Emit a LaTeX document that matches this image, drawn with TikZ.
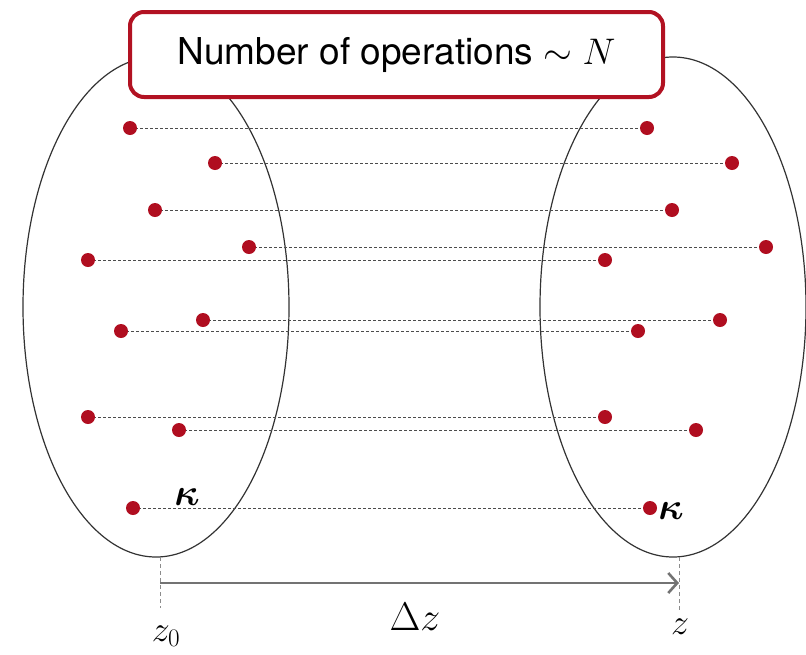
\RequirePackage{fix-cm}
\documentclass[tikz,border=0pt]{standalone}
\usepackage{amsmath,bm}
\usepackage{fontspec}
\setmainfont{TeX Gyre Heros}
\usetikzlibrary{arrows.meta}
\definecolor{dotred}{RGB}{176,14,32}
\definecolor{boxred}{RGB}{178,18,34}
\tikzset{
  dot/.style={circle,fill=dotred,draw=none,minimum size=14pt,inner sep=0pt},
  link/.style={draw=black!70,line width=0.7pt,dash pattern=on 3pt off 2pt},
  blob/.style={draw=black!80,line width=1.2pt},
  guide/.style={draw=black!45,line width=0.8pt,dash pattern=on 4pt off 3pt},
  titlebox/.style={draw=boxred,line width=4pt,rounded corners=14pt,fill=white,minimum width=533pt,minimum height=85pt,inner sep=0pt,font=\fontsize{37}{40}\selectfont},
  lab/.style={inner sep=0pt,font=\fontsize{36}{40}\selectfont},
  klab/.style={inner sep=0pt,font=\fontsize{38}{42}\selectfont}
}
\begin{document}
\begin{tikzpicture}[x=1pt,y=-1pt]
\useasboundingbox (0,0) rectangle (806,654);
% ellipses
\draw[blob] (156,307) ellipse [x radius=133, y radius=250];
\draw[blob] (673,307) ellipse [x radius=133, y radius=250];
% dots
\foreach \i/\x/\y in {1/130/128,2/215/163,3/155/210,4/249/247,5/88/260,6/203/320,7/121/331,8/88/417,9/179/430,10/133/508}{
  \coordinate (L\i) at (\x,\y);
  \coordinate (R\i) at (\x+517,\y);
}
\foreach \i in {1,...,10}{\draw[link] (L\i) -- (R\i);}
\foreach \i in {1,...,10}{
  \node[dot] (dl\i) at (L\i) {};
  \node[dot] (dr\i) at (R\i) {};
}
\node[klab] (kl) at (187,497) {$\bm{\kappa}$};
\node[klab] (kr) at (671,511) {$\bm{\kappa}$};
% title
\node[titlebox] (title) at (396.5,54.5) {Number of operations $\sim N$};
% bottom axis
\coordinate (a0) at (160,557);
\coordinate (a1) at (679,557);
\coordinate (b0) at (160,608);
\coordinate (b1) at (679,612);
\draw[guide] (a0) -- (b0);
\draw[guide] (a1) -- (b1);
\coordinate (s) at (160,583);
\coordinate (e) at (679,583);
\draw[draw=black!55,line width=2.6pt,-{Straight Barb[length=9pt,width=20pt,line width=2.6pt]}] (s) -- (e);
\node[lab,font=\fontsize{40}{44}\selectfont] (dz) at (415,617) {$\Delta z$};
\node[lab] (z0) at (166,636) {$z_0$};
\node[lab] (z) at (680,627) {$z$};
\end{tikzpicture}
\end{document}
